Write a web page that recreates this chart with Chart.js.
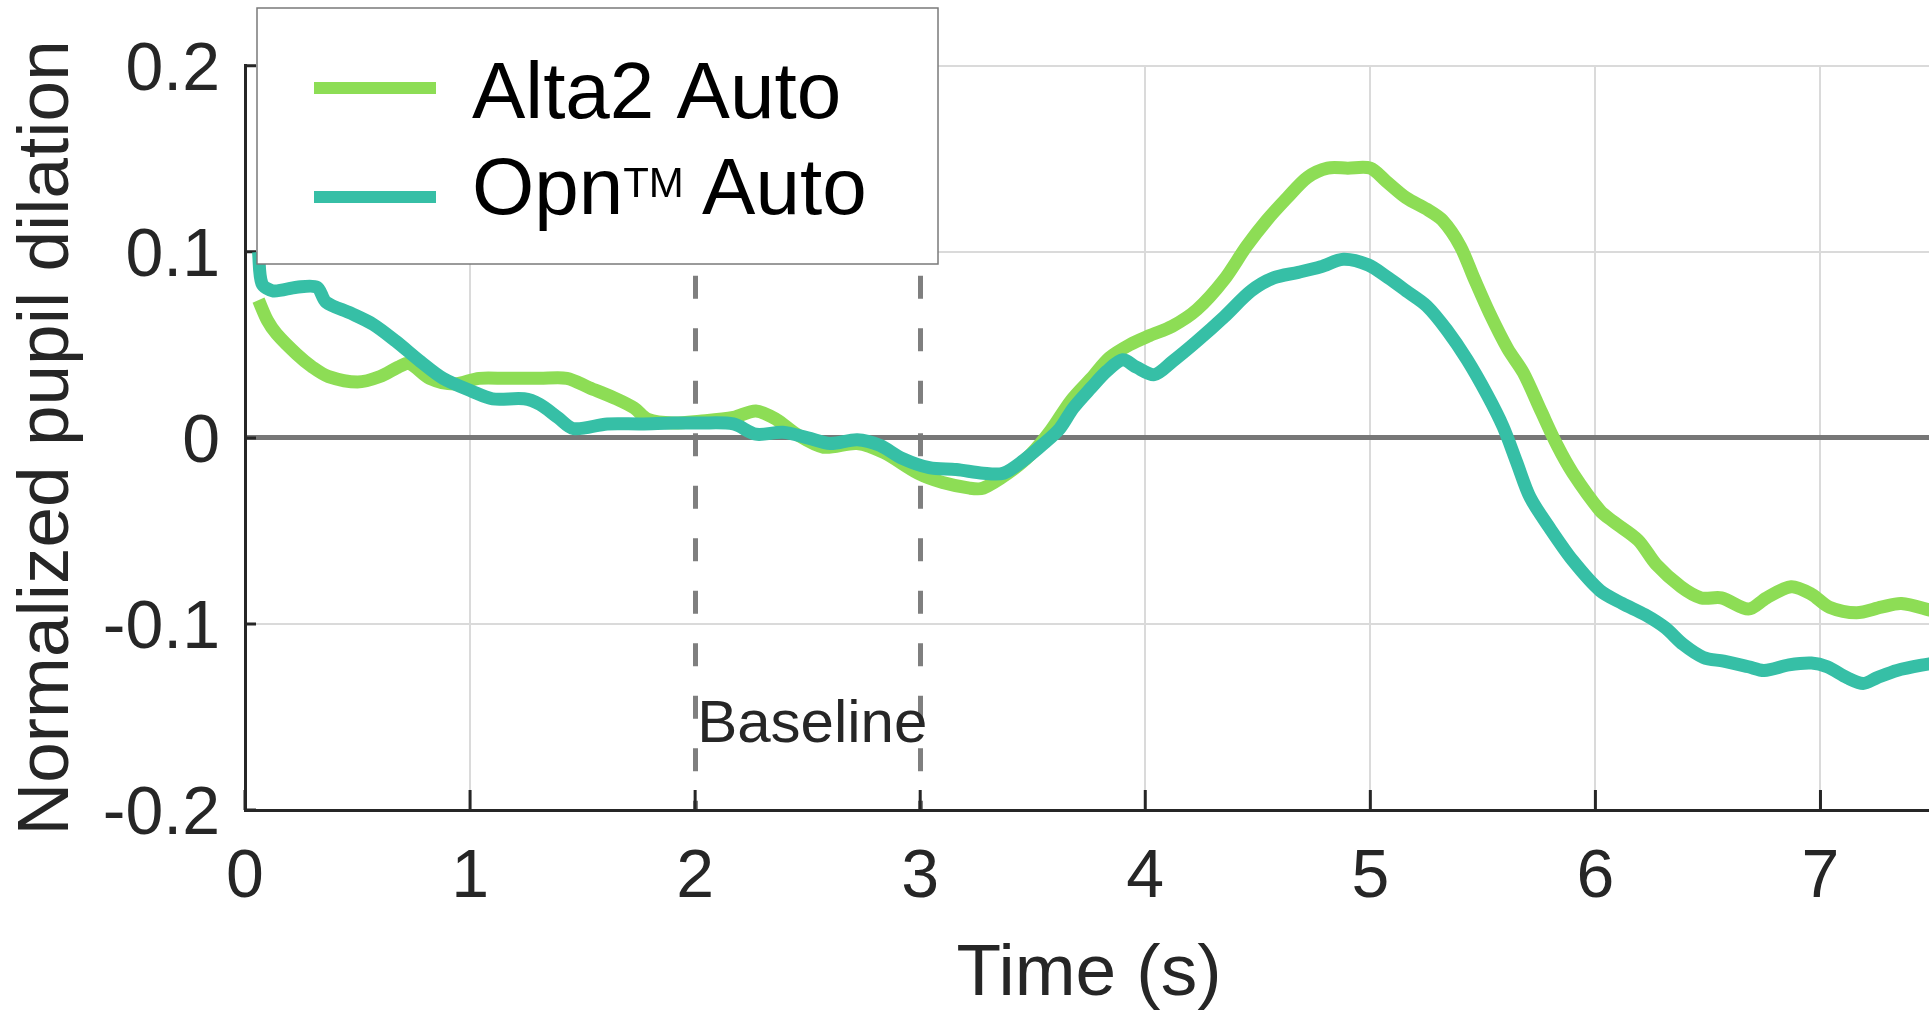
<!DOCTYPE html>
<html>
<head>
<meta charset="utf-8">
<title>Normalized pupil dilation</title>
<script src="https://cdn.jsdelivr.net/npm/chart.js@4.4.1/dist/chart.umd.min.js"></script>
<style>
    html, body { margin: 0; padding: 0; background: #fff; overflow: hidden; }
    #wrap { position: relative; width: 1933px; height: 1016px; }
</style>
</head>
<body>
<div id="wrap"><canvas id="pupilChart" width="1933" height="1016"></canvas></div>
<script>
// values (time in s, normalized dilation)
const alta2Time = [0.06, 0.10, 0.14, 0.23, 0.30, 0.37, 0.50, 0.60, 0.68, 0.73, 0.82, 0.93, 1.04, 1.16, 1.31,
    1.43, 1.53, 1.65, 1.73, 1.79, 1.90, 2.02, 2.17, 2.27, 2.36, 2.45, 2.57, 2.72, 2.84, 2.99, 3.10, 3.22, 3.28,
    3.39, 3.49, 3.58, 3.67, 3.76, 3.84, 3.93, 4.02, 4.12, 4.23, 4.35, 4.45, 4.54, 4.63, 4.72, 4.81, 4.90, 5.00,
    5.07, 5.16, 5.25, 5.32, 5.40, 5.46, 5.53, 5.61, 5.68, 5.76, 5.83, 5.90, 6.02, 6.08, 6.19, 6.27, 6.38, 6.47,
    6.56, 6.68, 6.76, 6.87, 6.96, 7.04, 7.16, 7.27, 7.36, 7.50];
const alta2Values = [0.074, 0.063, 0.056, 0.045, 0.038, 0.033, 0.030, 0.033, 0.038, 0.040, 0.032, 0.029, 0.032, 0.032, 0.032,
    0.032, 0.027, 0.021, 0.016, 0.010, 0.008, 0.009, 0.011, 0.0145, 0.010, 0.002, -0.005, -0.003, -0.008, -0.019, -0.024, -0.027, -0.027,
    -0.019, -0.009, 0.004, 0.020, 0.032, 0.043, 0.050, 0.055, 0.060, 0.069, 0.085, 0.103, 0.117, 0.129, 0.140, 0.145, 0.145, 0.145,
    0.138, 0.129, 0.123, 0.117, 0.103, 0.086, 0.067, 0.048, 0.035, 0.014, -0.004, -0.019, -0.039, -0.045, -0.055, -0.068, -0.080, -0.086,
    -0.086, -0.092, -0.086, -0.080, -0.084, -0.091, -0.094, -0.091, -0.089, -0.093];

const opnTime = [0.06, 0.075, 0.125, 0.23, 0.32, 0.36, 0.47, 0.57, 0.67, 0.78, 0.88, 1.01, 1.10, 1.24, 1.31, 1.39,
    1.46, 1.61, 1.76, 1.90, 2.02, 2.17, 2.27, 2.39, 2.50, 2.60, 2.72, 2.82, 2.92, 3.04, 3.16, 3.28, 3.37, 3.46,
    3.55, 3.62, 3.68, 3.76, 3.83, 3.90, 3.96, 4.04, 4.12, 4.23, 4.35, 4.47, 4.57, 4.68, 4.78, 4.88, 4.99, 5.08,
    5.16, 5.25, 5.34, 5.43, 5.52, 5.59, 5.65, 5.71, 5.80, 5.90, 6.02, 6.12, 6.22, 6.31, 6.39, 6.48, 6.57, 6.68,
    6.75, 6.86, 6.96, 7.03, 7.12, 7.19, 7.25, 7.34, 7.50];
const opnValues = [0.100, 0.083, 0.079, 0.081, 0.081, 0.073, 0.067, 0.061, 0.052, 0.041, 0.032, 0.025, 0.021, 0.021, 0.018, 0.011,
    0.005, 0.0075, 0.0075, 0.008, 0.008, 0.0075, 0.002, 0.003, 0.000, -0.003, -0.001, -0.004, -0.011, -0.016, -0.017, -0.019, -0.019, -0.012,
    -0.003, 0.005, 0.016, 0.027, 0.036, 0.042, 0.038, 0.034, 0.041, 0.052, 0.065, 0.079, 0.086, 0.089, 0.092, 0.096, 0.093, 0.086,
    0.079, 0.071, 0.058, 0.042, 0.023, 0.006, -0.013, -0.032, -0.049, -0.066, -0.082, -0.089, -0.095, -0.102, -0.111, -0.118, -0.120, -0.123,
    -0.125, -0.122, -0.121, -0.123, -0.129, -0.132, -0.129, -0.125, -0.121];

const seriesLabels = ['Alta2 Auto', 'Opn™ Auto'];
const xTicks = [0, 1, 2, 3, 4, 5, 6, 7];
const yTicks = [-0.2, -0.1, 0, 0.1, 0.2];
const baselineMarks = [2, 3];
const baselineText = 'Baseline';

const FONT = "'Liberation Sans', Arial, sans-serif";
const INK = '#262626';
const GREEN = '#8ddd55';
const TEAL = '#36bfa6';

function toPoints(xs, ys) {
    return xs.map((x, i) => ({ x: x, y: ys[i] }));
}

function isBaselineTick(ctx) {
    return ctx.tick && baselineMarks.includes(ctx.tick.value);
}

// MATLAB style tick marks pointing into the axes
const innerTicks = {
    id: 'innerTicks',
    beforeDatasetsDraw(chart) {
        const { ctx, chartArea, scales } = chart;
        ctx.save();
        ctx.strokeStyle = INK;
        ctx.lineWidth = 3;
        ctx.beginPath();
        scales.x.ticks.forEach(t => {
            const px = scales.x.getPixelForValue(t.value);
            ctx.moveTo(px, chartArea.bottom);
            ctx.lineTo(px, chartArea.bottom - 20);
        });
        scales.y.ticks.forEach(t => {
            const py = scales.y.getPixelForValue(t.value);
            ctx.moveTo(chartArea.left, py);
            ctx.lineTo(chartArea.left + 11, py);
        });
        ctx.stroke();
        ctx.restore();
    }
};

const baselineLabel = {
    id: 'baselineLabel',
    afterDatasetsDraw(chart) {
        const { ctx, scales } = chart;
        ctx.save();
        ctx.font = '60px ' + FONT;
        ctx.fillStyle = INK;
        ctx.textAlign = 'left';
        ctx.textBaseline = 'alphabetic';
        ctx.fillText(baselineText, scales.x.getPixelForValue(baselineMarks[0]) + 2, scales.y.getPixelForValue(-0.1635));
        ctx.restore();
    }
};

const boxLegend = {
    id: 'boxLegend',
    afterDraw(chart) {
        const { ctx, chartArea } = chart;
        const left = chartArea.left + 12, top = 8, width = 681, height = 256;
        ctx.save();
        ctx.fillStyle = '#fff';
        ctx.fillRect(left, top, width, height);
        ctx.strokeStyle = '#7a7a7a';
        ctx.lineWidth = 1.5;
        ctx.strokeRect(left, top, width, height);

        const rows = [{ swatch: 80, base: 110 }, { swatch: 189, base: 206 }];
        chart.data.datasets.forEach((ds, i) => {
            const r = rows[i];
            ctx.strokeStyle = ds.borderColor;
            ctx.lineWidth = 12;
            ctx.beginPath();
            ctx.moveTo(left + 57, top + r.swatch);
            ctx.lineTo(left + 179, top + r.swatch);
            ctx.stroke();

            ctx.fillStyle = '#000';
            ctx.textBaseline = 'alphabetic';
            let x = left + 215;
            const parts = ds.label.split('™');
            parts.forEach((p, j) => {
                ctx.font = '80px ' + FONT;
                ctx.fillText(p, x, top + r.base);
                x += ctx.measureText(p).width;
                if (j < parts.length - 1) {
                    ctx.font = '42px ' + FONT;
                    ctx.fillText('TM', x, top + r.base - 17);
                    x += ctx.measureText('TM').width - 4;
                }
            });
        });
        ctx.restore();
    }
};

const data = {
    datasets: [
        {
            label: seriesLabels[0],
            data: toPoints(alta2Time, alta2Values),
            borderColor: GREEN,
            borderWidth: 13,
            pointRadius: 0,
            tension: 0.3,
            borderJoinStyle: 'round',
            fill: false,
            order: 1
        },
        {
            label: seriesLabels[1],
            data: toPoints(opnTime, opnValues),
            borderColor: TEAL,
            borderWidth: 13,
            pointRadius: 0,
            tension: 0.3,
            borderJoinStyle: 'round',
            fill: false,
            order: 0
        }
    ]
};

const options = {
    responsive: false,
    animation: false,
    layout: { padding: { top: 64, left: 0, right: 0, bottom: 0 } },
    plugins: {
        legend: { display: false },
        tooltip: { enabled: false }
    },
    scales: {
        x: {
            type: 'linear',
            min: 0,
            max: 7.5,
            afterBuildTicks: s => { s.ticks = xTicks.map(v => ({ value: v })); },
            afterFit: s => { s.height = 206; },
            ticks: {
                font: { family: FONT, size: 68 },
                color: INK,
                padding: 27,
                maxRotation: 0,
                autoSkip: false,
                callback: v => String(v)
            },
            grid: {
                drawTicks: false,
                color: ctx => isBaselineTick(ctx) ? '#7f7f7f' : '#dadada',
                lineWidth: ctx => isBaselineTick(ctx) ? 5 : 2
            },
            border: {
                color: INK,
                width: 3,
                dash: ctx => isBaselineTick(ctx) ? [23, 29.5] : [],
                dashOffset: 0
            },
            title: {
                display: true,
                text: 'Time (s)',
                color: INK,
                font: { family: FONT, size: 73, lineHeight: 1.1 },
                padding: { top: 0, bottom: 1 }
            }
        },
        y: {
            type: 'linear',
            min: -0.2,
            max: 0.2,
            afterBuildTicks: s => { s.ticks = yTicks.map(v => ({ value: v })); },
            afterFit: s => { s.width = 245; },
            ticks: {
                font: { family: FONT, size: 68 },
                color: INK,
                padding: 25,
                labelOffset: 5,
                callback: v => String(v)
            },
            grid: {
                drawTicks: false,
                color: ctx => (ctx.tick && ctx.tick.value === 0) ? '#777777' : '#dadada',
                lineWidth: ctx => (ctx.tick && ctx.tick.value === 0) ? 5 : 2
            },
            border: { color: INK, width: 3 },
            title: {
                display: true,
                text: 'Normalized pupil dilation',
                color: INK,
                font: { family: FONT, size: 73 },
                padding: { top: 4, bottom: 0 }
            }
        }
    }
};

new Chart(document.getElementById('pupilChart').getContext('2d'), {
    type: 'line',
    data: data,
    options: options,
    plugins: [innerTicks, baselineLabel, boxLegend]
});
</script>
</body>
</html>
